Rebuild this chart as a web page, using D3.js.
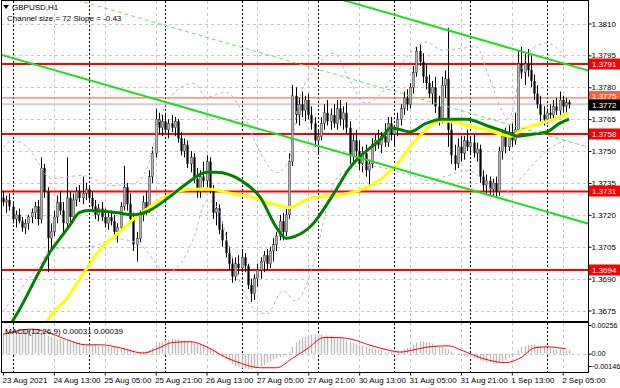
<!DOCTYPE html>
<html>
<head>
<meta charset="utf-8">
<script src="https://cdn.jsdelivr.net/npm/d3@7"></script>
<style>
  body { margin: 0; background: #fff; }
  svg { display: block; font-family: "Liberation Sans", Arial, sans-serif; }
</style>
</head>
<body>
<svg id="chart" width="620" height="388"></svg>
<script>
// GBPUSD H1, 23 Aug 21:00 .. 2 Sep 07:00 (one entry per hourly bar)
var opens = [1.3728,1.3726,1.3727,1.3724,1.3718,1.3720,1.3717,1.3714,1.3716,1.3719,1.3721,1.3724,1.3718,1.3742,1.3731,1.3709,1.3712,1.3719,1.3726,1.3722,
  1.3716,1.3728,1.3719,1.3727,1.3731,1.3728,1.3730,1.3732,1.3728,1.3724,1.3720,1.3723,1.3719,1.3716,1.3719,1.3717,1.3712,1.3714,1.3724,1.3733,
  1.3725,1.3718,1.3706,1.3709,1.3720,1.3726,1.3723,1.3738,1.3749,1.3765,1.3761,1.3764,1.3760,1.3763,1.3761,1.3764,1.3756,1.3750,1.3753,1.3744,
  1.3747,1.3737,1.3731,1.3738,1.3736,1.3745,1.3732,1.3721,1.3723,1.3713,1.3708,1.3702,1.3697,1.3691,1.3697,1.3695,1.3700,1.3696,1.3687,1.3683,
  1.3690,1.3694,1.3698,1.3701,1.3697,1.3703,1.3706,1.3710,1.3717,1.3712,1.3720,1.3745,1.3776,1.3767,1.3772,1.3769,1.3774,1.3767,1.3763,1.3755,
  1.3757,1.3763,1.3768,1.3764,1.3767,1.3763,1.3770,1.3765,1.3768,1.3761,1.3748,1.3755,1.3750,1.3744,1.3749,1.3741,1.3744,1.3753,1.3755,1.3753,
  1.3757,1.3754,1.3763,1.3758,1.3760,1.3765,1.3770,1.3775,1.3772,1.3780,1.3787,1.3797,1.3792,1.3785,1.3782,1.3777,1.3780,1.3771,1.3765,1.3781,
  1.3784,1.3760,1.3748,1.3744,1.3752,1.3749,1.3755,1.3752,1.3754,1.3749,1.3751,1.3738,1.3734,1.3736,1.3732,1.3735,1.3731,1.3750,1.3757,1.3752,
  1.3759,1.3755,1.3760,1.3791,1.3787,1.3791,1.3788,1.3783,1.3777,1.3772,1.3767,1.3765,1.3768,1.3767,1.3771,1.3769,1.3774,1.3771,1.3773];
var highs = [1.3731,1.3729,1.3730,1.3726,1.3722,1.3723,1.3719,1.3718,1.3720,1.3723,1.3726,1.3727,1.3747,1.3744,1.3733,1.3716,1.3722,1.3729,1.3731,1.3726,
  1.3747,1.3731,1.3730,1.3733,1.3734,1.3738,1.3735,1.3734,1.3731,1.3727,1.3725,1.3726,1.3723,1.3721,1.3722,1.3720,1.3716,1.3726,1.3743,1.3735,
  1.3730,1.3721,1.3712,1.3722,1.3729,1.3731,1.3741,1.3752,1.3770,1.3768,1.3767,1.3768,1.3765,1.3767,1.3766,1.3765,1.3759,1.3756,1.3755,1.3750,
  1.3749,1.3742,1.3741,1.3745,1.3748,1.3747,1.3734,1.3726,1.3725,1.3717,1.3712,1.3705,1.3700,1.3700,1.3701,1.3703,1.3702,1.3697,1.3690,1.3692,
  1.3697,1.3700,1.3703,1.3704,1.3705,1.3709,1.3712,1.3720,1.3721,1.3723,1.3749,1.3781,1.3780,1.3775,1.3778,1.3776,1.3777,1.3771,1.3766,1.3760,
  1.3766,1.3772,1.3774,1.3770,1.3772,1.3774,1.3774,1.3771,1.3773,1.3764,1.3758,1.3760,1.3755,1.3752,1.3753,1.3746,1.3756,1.3758,1.3760,1.3759,
  1.3763,1.3766,1.3766,1.3762,1.3768,1.3772,1.3778,1.3779,1.3782,1.3790,1.3799,1.3800,1.3796,1.3791,1.3786,1.3783,1.3785,1.3776,1.3785,1.3788,
  1.3808,1.3763,1.3753,1.3756,1.3757,1.3757,1.3760,1.3757,1.3758,1.3754,1.3753,1.3741,1.3739,1.3738,1.3737,1.3738,1.3752,1.3760,1.3761,1.3762,
  1.3763,1.3768,1.3797,1.3799,1.3796,1.3798,1.3795,1.3786,1.3781,1.3776,1.3771,1.3770,1.3772,1.3774,1.3775,1.3778,1.3776,1.3775,1.3774];
var lows = [1.3724,1.3721,1.3722,1.3716,1.3714,1.3716,1.3712,1.3711,1.3713,1.3716,1.3718,1.3715,1.3716,1.3728,1.3693,1.3703,1.3710,1.3716,1.3720,1.3712,
  1.3714,1.3715,1.3717,1.3724,1.3726,1.3725,1.3727,1.3726,1.3722,1.3718,1.3717,1.3717,1.3714,1.3713,1.3715,1.3710,1.3707,1.3712,1.3722,1.3722,
  1.3716,1.3703,1.3698,1.3707,1.3717,1.3720,1.3721,1.3735,1.3747,1.3758,1.3757,1.3758,1.3756,1.3759,1.3757,1.3754,1.3748,1.3747,1.3742,1.3740,
  1.3735,1.3728,1.3728,1.3733,1.3733,1.3730,1.3718,1.3715,1.3711,1.3705,1.3700,1.3694,1.3688,1.3689,1.3692,1.3693,1.3693,1.3685,1.3679,1.3680,
  1.3686,1.3690,1.3693,1.3694,1.3695,1.3698,1.3703,1.3708,1.3708,1.3710,1.3718,1.3743,1.3763,1.3762,1.3766,1.3764,1.3765,1.3760,1.3752,1.3749,
  1.3755,1.3760,1.3762,1.3760,1.3761,1.3760,1.3762,1.3760,1.3758,1.3744,1.3745,1.3746,1.3741,1.3740,1.3738,1.3733,1.3742,1.3750,1.3751,1.3749,
  1.3752,1.3752,1.3755,1.3752,1.3757,1.3762,1.3767,1.3769,1.3770,1.3777,1.3785,1.3790,1.3782,1.3779,1.3775,1.3772,1.3768,1.3762,1.3763,1.3775,
  1.3752,1.3744,1.3741,1.3742,1.3745,1.3746,1.3750,1.3748,1.3747,1.3745,1.3735,1.3731,1.3730,1.3729,1.3729,1.3728,1.3729,1.3746,1.3749,1.3750,
  1.3752,1.3753,1.3758,1.3784,1.3781,1.3785,1.3780,1.3774,1.3770,1.3764,1.3762,1.3763,1.3764,1.3765,1.3767,1.3766,1.3768,1.3768,1.3770];
var closes = [1.3726,1.3727,1.3724,1.3718,1.3720,1.3717,1.3714,1.3716,1.3719,1.3721,1.3724,1.3718,1.3742,1.3731,1.3709,1.3712,1.3719,1.3726,1.3722,1.3716,
  1.3728,1.3719,1.3727,1.3731,1.3728,1.3730,1.3732,1.3728,1.3724,1.3720,1.3723,1.3719,1.3716,1.3719,1.3717,1.3712,1.3714,1.3724,1.3733,1.3725,
  1.3718,1.3706,1.3709,1.3720,1.3726,1.3723,1.3738,1.3749,1.3765,1.3761,1.3764,1.3760,1.3763,1.3761,1.3764,1.3756,1.3750,1.3753,1.3744,1.3747,
  1.3737,1.3731,1.3738,1.3736,1.3745,1.3732,1.3721,1.3723,1.3713,1.3708,1.3702,1.3697,1.3691,1.3697,1.3695,1.3700,1.3696,1.3687,1.3683,1.3690,
  1.3694,1.3698,1.3701,1.3697,1.3703,1.3706,1.3710,1.3717,1.3712,1.3720,1.3745,1.3776,1.3767,1.3772,1.3769,1.3774,1.3767,1.3763,1.3755,1.3757,
  1.3763,1.3768,1.3764,1.3767,1.3763,1.3770,1.3765,1.3768,1.3761,1.3748,1.3755,1.3750,1.3744,1.3749,1.3741,1.3744,1.3753,1.3755,1.3753,1.3757,
  1.3754,1.3763,1.3758,1.3760,1.3765,1.3770,1.3775,1.3772,1.3780,1.3787,1.3797,1.3792,1.3785,1.3782,1.3777,1.3780,1.3771,1.3765,1.3781,1.3784,
  1.3760,1.3748,1.3744,1.3752,1.3749,1.3755,1.3752,1.3754,1.3749,1.3751,1.3738,1.3734,1.3736,1.3732,1.3735,1.3731,1.3750,1.3757,1.3752,1.3759,
  1.3755,1.3760,1.3791,1.3787,1.3791,1.3788,1.3783,1.3777,1.3772,1.3767,1.3765,1.3768,1.3767,1.3771,1.3769,1.3774,1.3771,1.3773,1.3772];

// moving averages and bands: [bar, price]
var greenMA = [[0,1.3663],[3,1.3670],[5,1.3675],[12,1.3695],[15,1.3703],[18,1.3709],[21,1.3715],[24,1.3721],[27,1.3722],[36,1.3721],
  [41,1.3720],[46,1.3722],[52,1.3728],[58,1.3735],[64,1.3740],[67,1.3740],[75,1.3736],[81,1.3728],[86,1.3714],[89,1.3709],
  [92,1.3710],[97,1.3715],[104,1.3730],[109,1.3742],[112,1.3747],[119,1.3756],[122,1.3761],[125,1.3760],[128,1.3759],[133,1.3763],
  [138,1.3765],[146,1.3765],[152,1.3762],[158,1.3759],[162,1.3757],[167,1.3758],[171,1.3759],[175,1.3763],[178,1.3765]];
var yellowMA = [[12,1.3663],[14,1.3670],[20,1.36805],[26,1.3694],[31,1.37046],[36,1.3711],[41,1.3718],[46,1.37235],[53,1.3730],[60,1.3732],
  [65,1.3732],[72,1.3730],[79,1.3728],[85,1.3725],[90,1.37235],[97,1.3728],[104,1.3729],[112,1.37315],[119,1.3737],[124,1.3744],
  [128,1.3752],[133,1.3760],[137,1.3764],[141,1.3764],[146,1.3762],[152,1.3760],[160,1.3757],[163,1.3760],[169,1.3763],[175,1.3766],[178,1.3768]];
var bandUpper = [[0,1.37517],[3,1.3755],[8,1.37513],[11,1.37446],[15,1.37371],[25,1.37385],[34,1.37338],[41,1.37347],[45,1.37409],[50,1.37678],
  [56,1.3780],[60,1.37819],[64,1.37753],[70,1.37777],[75,1.37692],[81,1.37489],[86,1.37399],[90,1.37456],[93,1.37739],[98,1.37881],
  [104,1.37961],[109,1.37833],[114,1.37725],[119,1.37772],[124,1.37881],[128,1.37961],[133,1.38013],[138,1.37975],[149,1.37989],[152,1.37881],
  [154,1.3780],[159,1.37654],[163,1.37881],[167,1.37989],[171,1.38008],[177,1.37937]];
var bandLower = [[0,1.36748],[5,1.36842],[12,1.36974],[15,1.3704],[28,1.3705],[35,1.37088],[40,1.37078],[44,1.3705],[48,1.36974],[51,1.36927],
  [56,1.36974],[60,1.37092],[64,1.37267],[67,1.37243],[71,1.37055],[75,1.36866],[79,1.36757],[83,1.36734],[88,1.36842],[92,1.36795],
  [97,1.36937],[104,1.37347],[108,1.37409],[114,1.37432],[119,1.37423],[125,1.37399],[129,1.37385],[133,1.37361],[140,1.37385],[146,1.37409],
  [152,1.37347],[156,1.37281],[160,1.37328],[167,1.37442],[171,1.37503],[177,1.3755]];

// MACD(12,26,9): histogram per bar, signal [bar, value]
var macdHist = [.0018,.0019,.0019,.0020,.0020,.0020,.0021,.0021,.0021,.0022,.0022,.0021,.0022,
  .0019,.0016,.0015,.0014,.0013,.0013,.0012,.0012,
  .0011,.0011,.0010,.0010,.0009,.0009,.0009,.0008,.0008,.0007,.0007,
  .0007,.0006,.0006,.0006,.0005,.0005,.0005,.0004,.0004,.0003,.0002,.0002,
  .0002,.0002,.0003, .0005,.0008,.0010,.0011,.0012,.0012,.0013, .0013,.0013,.0012,
  .0012,.0011,.0011,.0010,.0009,.0009, .0008,.0007,.0005,.0004,.0002,
  -.0001,-.0003,-.0005,-.0007,-.0009, -.0011,-.0012,-.0013,-.0013,-.0014,-.0014,
  -.0013,-.0012,-.0011,-.0010,-.0008,-.0007,-.0005,-.0004, -.0003,-.0002,-.0001,.0001,
  .0006,.0010,.0012,.0014,.0015,.0016, .0017,.0017,.0017,.0017,.0016,
  .0016,.0016,.0015,.0015,.0014,.0013,.0012,.0011,.0010,
  .0009,.0008,.0007,.0006,.0005,.0005,.0004,.0003,.0003,.0002,.0002,.0002,.0002,
  .0003,.0003,.0004,.0005,.0006,.0008, .0010,.0011,.0011,.0010,.0010,.0009,
  .0007,.0006,.0006,.0005,.0004, .0002,.0000,-.0001,-.0002,-.0002,-.0003,-.0003,
  -.0004,-.0005,-.0006,-.0007,-.0008,-.0008,-.0009,-.0009,-.0008,-.0007,-.0006,
  -.0004,-.0003,-.0001, .0003,.0006,.0007,.0008,.0008,.0008,
  .0007,.0007,.0006,.0005,.0005,.0004, .0004,.0004,.0003,.0003,.00031];
var macdSignal = [[0,.00172],[9,.00219],[13,.0020],[20,.00126],[26,.00079],[31,.00079],[37,.00051],[44,.00005],[49,.00051],[53,.00098],
  [59,.00107],[64,.00061],[70,-.00033],[75,-.00088],[81,-.00126],[86,-.00126],[91,-.00042],[96,.00051],[101,.00144],[105,.00144],
  [110,.00126],[115,.00079],[121,.00033],[125,.00014],[129,.00033],[134,.00061],[140,.0007],[144,.00033],[148,-.00014],[153,-.0006],
  [158,-.0008],[163,-.00033],[167,.00051],[171,.00061],[177,.00042]];

// regression channel (72 pips wide, -0.43 pips per bar)
var channelLower = [[-2, 1.37959], [186, 1.37150]];
var channelWidth = 0.0072;

var timeLabels = ['23 Aug 2021','24 Aug 13:00','25 Aug 05:00','25 Aug 21:00','26 Aug 13:00','27 Aug 05:00',
  '27 Aug 21:00','30 Aug 13:00','31 Aug 05:00','31 Aug 21:00','1 Sep 13:00','2 Sep 05:00'];
var labelBars = [0,16,32,48,64,80,96,112,128,144,160,176];
var daySeparatorBars = [3,27,51,75,99,123,147,171];
var priceTicks = [1.3810,1.3795,1.3780,1.3765,1.3750,1.3735,1.3720,1.3705,1.3690,1.3675];
var supportResistance = [1.3791, 1.3758, 1.3731, 1.3694];
var askLevel = 1.3775, bidLevel = 1.3772;
var macdTicks = [0.00256, 0, -0.00146];

(function () {
  'use strict';
  var svg = d3.select('#chart');
  var plotR = 588, mainTop = 1, mainBot = 321, macdTop = 323, macdBot = 372;

  var x = d3.scaleLinear().domain([0, 176]).range([3, 562.7]);
  var y = d3.scaleLinear().domain([1.3675, 1.3810]).range([310.5, 23.5]);
  var ym = d3.scaleLinear().domain([-0.00146, 0.00256]).range([370, 325]);

  var defs = svg.append('defs');
  defs.append('clipPath').attr('id', 'clipMain').append('rect')
    .attr('x', 1).attr('y', mainTop).attr('width', plotR - 1).attr('height', mainBot - mainTop);
  defs.append('clipPath').attr('id', 'clipMacd').append('rect')
    .attr('x', 1).attr('y', macdTop).attr('width', plotR - 1).attr('height', macdBot - macdTop);

  var main = svg.append('g').attr('clip-path', 'url(#clipMain)');
  var macd = svg.append('g').attr('clip-path', 'url(#clipMacd)');

  // grid
  main.selectAll('line.hg').data(priceTicks).enter().append('line')
    .attr('x1', 1).attr('x2', plotR).attr('y1', function (d) { return Math.round(y(d)) + 0.5; })
    .attr('y2', function (d) { return Math.round(y(d)) + 0.5; })
    .attr('stroke', '#c8c8c8').attr('stroke-dasharray', '3,3');
  [main, macd].forEach(function (g, k) {
    g.selectAll('line.vg').data(labelBars.slice(1)).enter().append('line')
      .attr('x1', function (d) { return Math.round(x(d)) + 0.5; })
      .attr('x2', function (d) { return Math.round(x(d)) + 0.5; })
      .attr('y1', k ? macdTop : mainTop).attr('y2', k ? macdBot : mainBot)
      .attr('stroke', '#c8c8c8').attr('stroke-dasharray', '3,3');
    g.selectAll('line.sep').data(daySeparatorBars).enter().append('line')
      .attr('x1', function (d) { return Math.round(x(d)) + 0.5; })
      .attr('x2', function (d) { return Math.round(x(d)) + 0.5; })
      .attr('y1', k ? macdTop : mainTop).attr('y2', k ? macdBot : mainBot)
      .attr('stroke', '#000').attr('stroke-dasharray', '2,2');
  });
  macd.append('line').attr('x1', 1).attr('x2', plotR)
    .attr('y1', Math.round(ym(0)) + 0.5).attr('y2', Math.round(ym(0)) + 0.5)
    .attr('stroke', '#c8c8c8').attr('stroke-dasharray', '3,3');

  // horizontal levels
  main.append('line').attr('x1', 1).attr('x2', plotR).attr('y1', y(bidLevel)).attr('y2', y(bidLevel))
    .attr('stroke', '#cfcfcf').attr('stroke-width', 2);
  main.append('line').attr('x1', 1).attr('x2', plotR).attr('y1', y(askLevel)).attr('y2', y(askLevel))
    .attr('stroke', '#ff7050').attr('stroke-width', 1.2);
  main.selectAll('line.lvl').data(supportResistance).enter().append('line')
    .attr('x1', 1).attr('x2', plotR).attr('y1', function (d) { return y(d); }).attr('y2', function (d) { return y(d); })
    .attr('stroke', '#ff0000').attr('stroke-width', 2);

  // candles
  var bars = d3.range(closes.length);
  main.selectAll('line.wick').data(bars).enter().append('line')
    .attr('x1', function (i) { return Math.round(x(i)) + 0.5; })
    .attr('x2', function (i) { return Math.round(x(i)) + 0.5; })
    .attr('y1', function (i) { return y(highs[i]); }).attr('y2', function (i) { return y(lows[i]); })
    .attr('stroke', '#000').attr('stroke-width', 1);
  main.selectAll('rect.body').data(bars).enter().append('rect')
    .attr('x', function (i) { return Math.round(x(i)) - 0.6; })
    .attr('width', 2.2)
    .attr('y', function (i) { return y(Math.max(opens[i], closes[i])); })
    .attr('height', function (i) { return Math.max(1, Math.abs(y(opens[i]) - y(closes[i]))); })
    .attr('fill', function (i) { return closes[i] >= opens[i] ? '#b4b4b4' : '#000'; })
    .attr('stroke', function (i) { return closes[i] >= opens[i] ? '#333' : 'none'; })
    .attr('stroke-width', 0.5);

  // bands, MAs, channel
  var line = d3.line().x(function (d) { return x(d[0]); }).y(function (d) { return y(d[1]); }).curve(d3.curveMonotoneX);
  [bandUpper, bandLower].forEach(function (b) {
    main.append('path').attr('d', line(b)).attr('fill', 'none')
      .attr('stroke', '#c9a2ea').attr('stroke-width', 1).attr('stroke-dasharray', '3,3');
  });
  main.append('path').attr('d', line(yellowMA)).attr('fill', 'none').attr('stroke', '#ffff00').attr('stroke-width', 3);
  main.append('path').attr('d', line(greenMA)).attr('fill', 'none').attr('stroke', '#008000').attr('stroke-width', 3);

  var straight = d3.line().x(function (d) { return x(d[0]); }).y(function (d) { return y(d[1]); });
  function shifted(off) { return channelLower.map(function (p) { return [p[0], p[1] + off]; }); }
  main.append('path').attr('d', straight(shifted(channelWidth / 2))).attr('fill', 'none')
    .attr('stroke', '#66e066').attr('stroke-width', 1).attr('stroke-dasharray', '4,3');
  main.append('path').attr('d', straight(shifted(0))).attr('fill', 'none').attr('stroke', '#22dd22').attr('stroke-width', 2);
  main.append('path').attr('d', straight(shifted(channelWidth))).attr('fill', 'none').attr('stroke', '#22dd22').attr('stroke-width', 2);

  // MACD
  macd.selectAll('rect.h').data(bars).enter().append('rect')
    .attr('x', function (i) { return Math.round(x(i)) - 0.2; }).attr('width', 1.4)
    .attr('y', function (i) { return Math.min(ym(0), ym(macdHist[i])); })
    .attr('height', function (i) { return Math.abs(ym(0) - ym(macdHist[i])); })
    .attr('fill', '#bdbdbd');
  macd.append('path').attr('fill', 'none').attr('stroke', '#ff0000').attr('stroke-width', 1)
    .attr('d', d3.line().x(function (d) { return x(d[0]); }).y(function (d) { return ym(d[1]); }).curve(d3.curveMonotoneX)(macdSignal));

  // frame
  var frame = svg.append('g').attr('stroke', '#000').attr('fill', 'none');
  frame.append('line').attr('x1', 1.5).attr('x2', 1.5).attr('y1', 0).attr('y2', macdBot);
  frame.append('line').attr('x1', 1).attr('x2', plotR).attr('y1', 0.5).attr('y2', 0.5);
  frame.append('line').attr('x1', 1).attr('x2', plotR).attr('y1', 322).attr('y2', 322).attr('stroke-width', 2);
  frame.append('line').attr('x1', 1).attr('x2', plotR).attr('y1', macdBot + 0.5).attr('y2', macdBot + 0.5);
  frame.append('line').attr('x1', plotR + 0.5).attr('x2', plotR + 0.5).attr('y1', 0).attr('y2', macdBot + 1);

  // axes
  var fmt4 = d3.format('.4f');
  var ay = svg.append('g').attr('transform', 'translate(' + (plotR + 0.5) + ',0)')
    .call(d3.axisRight(y).tickValues(priceTicks).tickSize(3).tickPadding(0).tickFormat(fmt4));
  var am = svg.append('g').attr('transform', 'translate(' + (plotR + 0.5) + ',0)')
    .call(d3.axisRight(ym).tickValues(macdTicks).tickSize(3).tickPadding(0)
      .tickFormat(function (d) { return d === 0 ? '0.00' : d3.format('.5f')(d); }));
  am.selectAll('.tick').filter(function (d) { return d < 0; }).attr('transform', 'translate(0,366.5)')
    .select('text').attr('x', 1.5);
  var ax = svg.append('g').attr('transform', 'translate(0,' + (macdBot + 0.5) + ')')
    .call(d3.axisBottom(x).tickValues(labelBars).tickSize(3).tickPadding(2)
      .tickFormat(function (d, i) { return timeLabels[i]; }));
  ax.selectAll('text').attr('text-anchor', 'start').attr('dx', -1);
  [ay, am, ax].forEach(function (a) {
    a.select('.domain').remove();
    a.selectAll('text').attr('fill', '#000').attr('font-size', 8)
      .attr('font-family', '"Liberation Sans", Arial, sans-serif');
    a.selectAll('line').attr('stroke', '#000');
  });
  am.selectAll('text').attr('font-size', 7.2);

  // level labels on the price axis
  var tags = supportResistance.map(function (v) { return { v: v, bg: '#ff0000', dy: 0 }; })
    .concat([{ v: askLevel, bg: '#ff5f38', dy: -1.5 }, { v: bidLevel, bg: '#000', dy: 1 }]);
  var tg = svg.append('g').selectAll('g').data(tags).enter().append('g')
    .attr('transform', function (d) { return 'translate(' + (plotR + 1) + ',' + Math.round(y(d.v)) + ')'; });
  tg.append('rect').attr('x', 0).attr('y', function (d) { return -5.5 + d.dy; }).attr('width', 32).attr('height', 11)
    .attr('fill', function (d) { return d.bg; });
  tg.append('text').attr('x', 3).attr('y', function (d) { return d.dy; }).attr('dy', '0.35em').attr('fill', '#fff').attr('font-size', 8)
    .text(function (d) { return fmt4(d.v); });

  // header texts
  svg.append('path').attr('d', 'M3,5 L9,5 L6,9 Z').attr('fill', '#000');
  svg.append('text').attr('x', 12).attr('y', 10).attr('font-size', 8).attr('fill', '#000').text('GBPUSD,H1');
  svg.append('text').attr('x', 7).attr('y', 21).attr('font-size', 8).attr('fill', '#000')
    .text('Channel size = 72 Slope = -0.43');
  svg.append('text').attr('x', 5).attr('y', 334).attr('font-size', 8).attr('fill', '#000')
    .text('MACD(12,26,9) 0.00031 0.00039');
})();
</script>
</body>
</html>
